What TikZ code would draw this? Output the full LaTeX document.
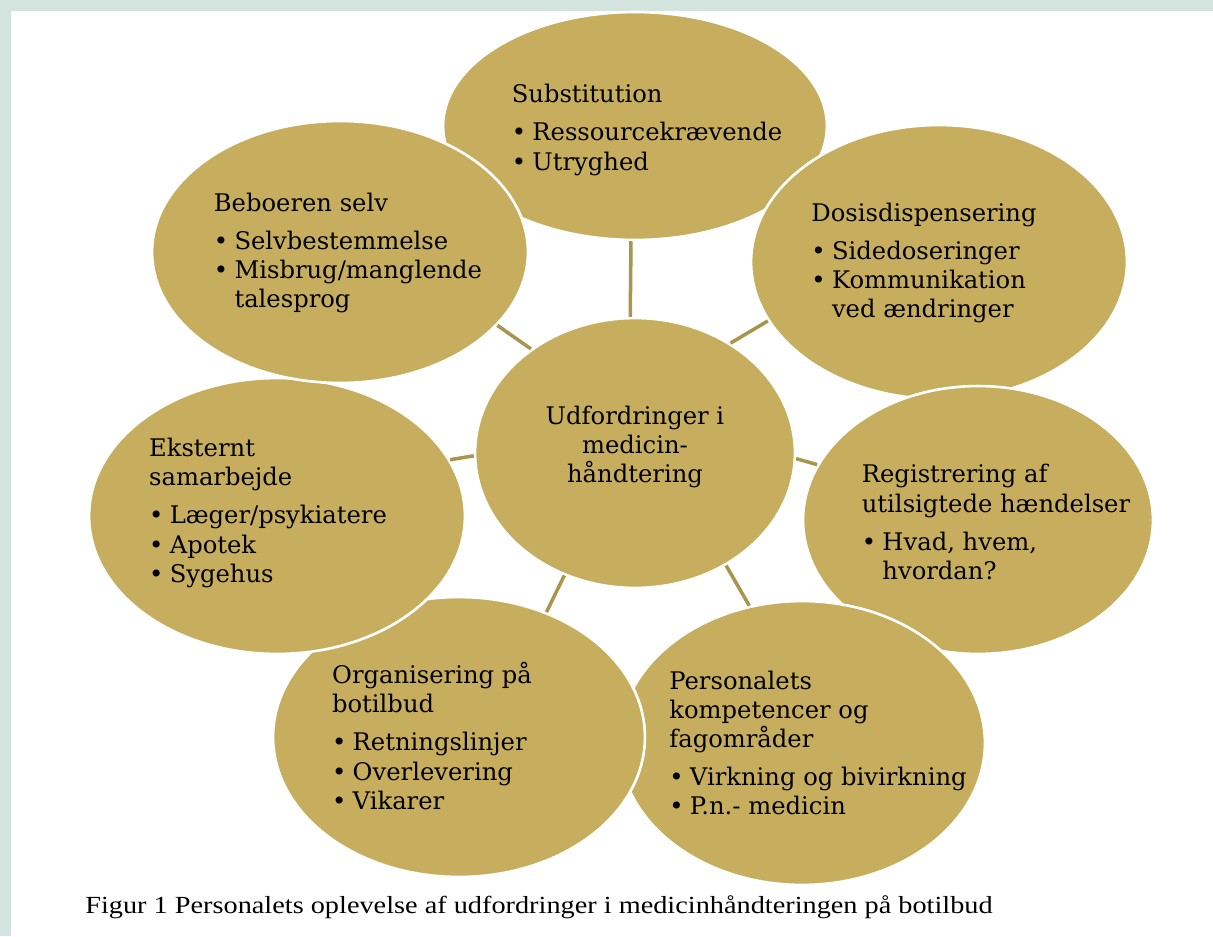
\documentclass[tikz,border=0pt]{standalone}
\usepackage{fontspec}
\setmainfont{DejaVu Serif}
\newfontfamily\capfont[FakeStretch=1.15]{Liberation Serif}
\usepackage{xcolor}
\definecolor{cGold}{HTML}{C6AE5E}
\definecolor{cLink}{HTML}{A8964E}
\definecolor{cFrame}{HTML}{D3E4DF}
\usetikzlibrary{shapes.geometric}
\newcommand{\bul}[1]{\makebox[0.85em][l]{\textbullet}#1}
\newcommand{\cont}[1]{\hspace*{0.85em}#1}
\tikzset{
  node-blob/.style 2 args={ellipse,fill=cGold,draw=white,line width=1.5pt,
    minimum width=#1*0.04cm,minimum height=#2*0.04cm,inner sep=0pt},
  node-text/.style={inner sep=0pt,align=left,font=\fontsize{13.8}{16.6}\selectfont},
  link/.style={draw=cLink,line width=2pt},
}

\begin{document}
\begin{tikzpicture}[x=0.02cm,y=-0.02cm]
  \fill[cFrame] (0,0) rectangle (1213,936);
  \fill[white] (11,11) rectangle (1213,936);
  \useasboundingbox (0,0) rectangle (1213,936);
  % outer ring, each one laid over the one before
  \node[node-blob={192}{114}] (sub) at (635,126) {};
  \node[node-text] (sub-txt) at (647,130)
    {Substitution\\[5pt]\bul{Ressourcekrævende}\\\bul{Utryghed}};
  \node[node-blob={188}{137}] (dos) at (939,262) {};
  \node[node-text] (dos-txt) at (924,263)
    {Dosisdispensering\\[5pt]\bul{Sidedoseringer}\\\bul{Kommunikation}\\\cont{ved ændringer}};
  \node[node-blob={175}{134}] (reg) at (978,520) {};
  \node[node-text] (reg-txt) at (996,522)
    {Registrering af\\utilsigtede hændelser\\[5pt]\bul{Hvad, hvem,}\\\cont{hvordan?}};
  \node[node-blob={183}{142}] (per) at (802,743) {};
  \node[node-text] (per-txt) at (818,743)
    {Personalets\\kompetencer og\\fagområder\\[5pt]\bul{Virkning og bivirkning}\\\bul{P.n.- medicin}};
  \node[node-blob={186}{140}] (org) at (459,737) {};
  \node[node-text] (org-txt) at (432,736)
    {Organisering på\\botilbud\\[5pt]\bul{Retningslinjer}\\\bul{Overlevering}\\\bul{Vikarer}};
  \node[node-blob={188}{138}] (eks) at (277,516) {};
  \node[node-text] (eks-txt) at (268,513)
    {Eksternt\\samarbejde\\[5pt]\bul{Læger/psykiatere}\\\bul{Apotek}\\\bul{Sygehus}};
  \node[node-blob={188}{131}] (beb) at (340,252) {};
  \node[node-text] (beb-txt) at (348,253)
    {Beboeren selv\\[5pt]\bul{Selvbestemmelse}\\\bul{Misbrug/manglende}\\\cont{talesprog}};
  % centre
  \node[node-blob={160}{135}] (core) at (635,453) {};
  \node[node-text,align=center] (core-txt) at (635,447)
    {Udfordringer i\\medicin-\\håndtering};
  \draw[link] (core.92)   -- (sub.-92);
  \draw[link] (core.49)   -- (dos.-161);
  \draw[link] (core.-2)   -- (reg.161);
  \draw[link] (core.-51)  -- (per.111);
  \draw[link] (core.-120) -- (org.55);
  \draw[link] (core.181)  -- (eks.18);
  \draw[link] (core.135)  -- (beb.-25);
  \node[anchor=west,inner sep=0pt,font=\capfont\fontsize{14}{16}\selectfont] (cap) at (85,907)
    {Figur 1 Personalets oplevelse af udfordringer i medicinhåndteringen på botilbud};
\end{tikzpicture}
\end{document}
